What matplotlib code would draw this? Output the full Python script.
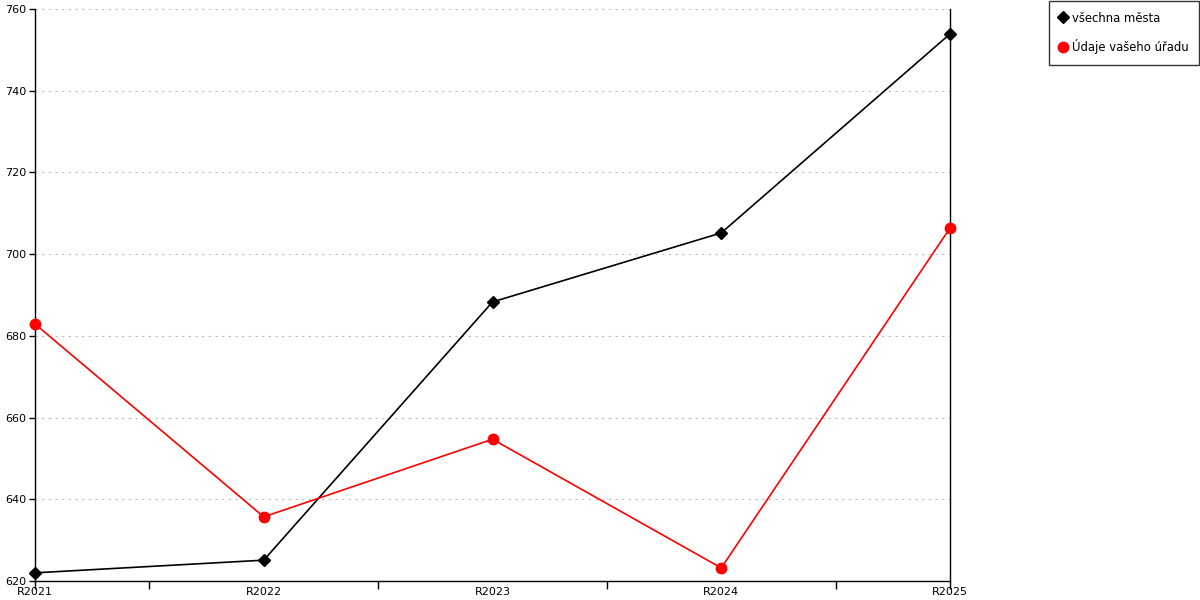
import matplotlib
matplotlib.use("Agg")
import matplotlib.pyplot as plt
from matplotlib.lines import Line2D

categories = ["R2021", "R2022", "R2023", "R2024", "R2025"]
vsechna_mesta = [622.0, 625.1, 688.3, 705.2, 753.9]
vas_urad = [682.9, 635.7, 654.7, 623.2, 706.4]
y_ticks = [620, 640, 660, 680, 700, 720, 740, 760]

plt.rcParams["font.family"] = ["DejaVu Sans"]

fig = plt.figure(figsize=(12, 6), dpi=100)
ax = fig.add_axes([35 / 1200, 1 - 581 / 600, 915 / 1200, 572 / 600])

x = list(range(len(categories)))
ax.plot(x, vsechna_mesta, color="black", lw=1.2, marker="D", ms=6,
        label="všechna města", zorder=3, clip_on=False)
ax.plot(x, vas_urad, color="#ff0000", lw=1.2, marker="o", ms=7.5,
        label="Údaje vašeho úřadu", zorder=3, clip_on=False)

ax.set_xlim(0, len(categories) - 1)
ax.set_ylim(620, 760)
ax.set_yticks(y_ticks)
ax.tick_params(axis="y", labelsize=8, length=4, width=1, pad=2)
ax.yaxis.grid(True, linestyle=(0, (2, 4)), color="#bbbbbb", lw=0.8)

# tick marks between categories, labels on the categories
ax.xaxis.remove_overlapping_locs = False
ax.set_xticks([0, 0.5, 1.5, 2.5, 3.5, 4])
ax.set_xticklabels([])
ax.tick_params(axis="x", length=6, width=1)
ax.set_xticks(x, minor=True)
ax.set_xticklabels(categories, minor=True)
ax.tick_params(axis="x", which="minor", length=0, labelsize=8, pad=4)

ax.spines["top"].set_visible(False)
for s in ("left", "right", "bottom"):
    ax.spines[s].set_linewidth(1)

handles = [
    Line2D([], [], color="black", marker="D", ms=6, ls="none"),
    Line2D([], [], color="#ff0000", marker="o", ms=7.5, ls="none"),
]
leg = fig.legend(handles, ["všechna města", "Údaje vašeho úřadu"],
                 loc="upper right", bbox_to_anchor=(1199 / 1200, 1 - 1 / 600),
                 fontsize=8.4, frameon=True, fancybox=False, handlelength=0.6,
                 handletextpad=0.5, borderpad=0.9, labelspacing=1.25,
                 borderaxespad=0)
leg.get_frame().set_edgecolor("black")
leg.get_frame().set_linewidth(1)

fig.savefig("out.png", dpi=100)
